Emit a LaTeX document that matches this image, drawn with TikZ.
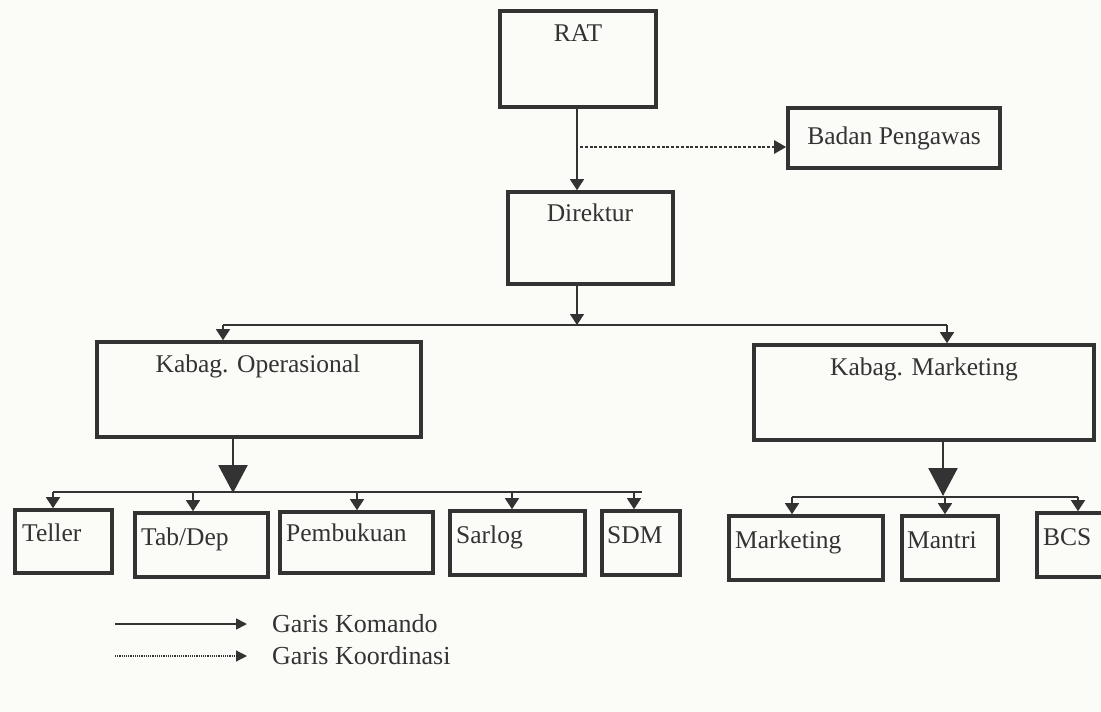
\documentclass[tikz,border=0pt]{standalone}
\usepackage{fontspec}
\setmainfont{Liberation Serif}
\usetikzlibrary{arrows.meta}
\definecolor{ink}{HTML}{333333}
\definecolor{paper}{HTML}{FBFBF8}
\begin{document}
\begin{tikzpicture}[x=1pt,y=-1pt,
  box/.style={draw=ink,line width=3.6pt,inner sep=0pt,rectangle},
  txt/.style={inner sep=0pt,text height=17pt,text depth=0pt,text=ink,font=\fontsize{25.5}{28}\selectfont},
  cmd/.style={draw=ink,line width=1.4pt,-{Triangle[length=11pt,width=14pt]}},
  bigcmd/.style={draw=ink,line width=2.6pt,-{Triangle[length=28pt,width=29pt]}},
  coord/.style={draw=ink,line width=2.6pt,dash pattern=on 3pt off 1.8pt,-{Triangle[length=12pt,width=13pt]}},
  legdot/.style={draw=ink,line width=1.2pt,dash pattern=on 1.2pt off 1pt,-{Triangle[length=11pt,width=11pt]}},
  legcmd/.style={draw=ink,line width=1.6pt,-{Triangle[length=11pt,width=11pt]}},
  bus/.style={draw=ink,line width=1.4pt}]
\useasboundingbox (0,0) rectangle (1101,712);
\clip (0,0) rectangle (1101,712);
\fill[paper] (0,0) rectangle (1101,712);

% boxes
\node[box,minimum width=156pt,minimum height=96pt] (rat) at (578,59) {};
\node[box,minimum width=212pt,minimum height=60pt] (bp) at (894,138) {};
\node[box,minimum width=165pt,minimum height=92pt] (dir) at (590.5,238) {};
\node[box,minimum width=324pt,minimum height=95pt] (op) at (259,389.5) {};
\node[box,minimum width=340pt,minimum height=95pt] (mk) at (924,392.5) {};
\node[box,minimum width=97pt,minimum height=63pt] (tel) at (63.5,541.5) {};
\node[box,minimum width=133pt,minimum height=64pt] (tab) at (201.5,545) {};
\node[box,minimum width=153pt,minimum height=61pt] (pem) at (356.5,542.5) {};
\node[box,minimum width=135pt,minimum height=64pt] (sar) at (517.5,543) {};
\node[box,minimum width=78pt,minimum height=64pt] (sdm) at (641,543) {};
\node[box,minimum width=154pt,minimum height=64pt] (mar) at (806,548) {};
\node[box,minimum width=96pt,minimum height=64pt] (man) at (950,548) {};
\node[box,minimum width=140pt,minimum height=64pt] (bcs) at (1107,545) {};

% texts
\node[txt] (ratT) at (578,33) {RAT};
\node[txt] (bpT) at (894,136) {Badan Pengawas};
\node[txt] (dirT) at (590,213) {Direktur};
\node[txt] (opT) at (258,364) {Kabag. Operasional};
\node[txt] (mkT) at (924,367) {Kabag. Marketing};
\node[txt,anchor=west] (telT) at (22,533) {Teller};
\node[txt,anchor=west] (tabT) at (141,537) {Tab/Dep};
\node[txt,anchor=west] (pemT) at (286,533) {Pembukuan};
\node[txt,anchor=west] (sarT) at (456,535) {Sarlog};
\node[txt,anchor=west] (sdmT) at (607,535) {SDM};
\node[txt,anchor=west] (marT) at (735,540) {Marketing};
\node[txt,anchor=west] (manT) at (907,540) {Mantri};
\node[txt,anchor=west] (bcsT) at (1043,537) {BCS};

% top connectors
\coordinate (ratx) at (577,0);
\draw[cmd] (ratx |- rat.south) -- (ratx |- dir.north);
\coordinate (d0) at (580,147);
\draw[coord] (d0) -- (d0 -| bp.west);
\coordinate (bus1) at (577,325);
\draw[cmd] (ratx |- dir.south) -- (bus1);
\coordinate (bl) at (223,325);
\coordinate (br) at (947,325);
\draw[bus] (bl) -- (br);
\draw[cmd] (bl) -- (bl |- op.north);
\draw[cmd] (br) -- (br |- mk.north);

% operasional subtree
\coordinate (opx) at (233,0);
\coordinate (ob) at (233,493);
\draw[bigcmd] (opx |- op.south) -- (ob);
\coordinate (obl) at (53,492);
\coordinate (obr) at (642,492);
\draw[bus] (obl) -- (obr);
\draw[cmd] (obl) -- (obl |- tel.north);
\draw[cmd] (193,492) -- (193,0 |- tab.north);
\draw[cmd] (357,492) -- (357,0 |- pem.north);
\draw[cmd] (512,492) -- (512,0 |- sar.north);
\draw[cmd] (634,492) -- (634,0 |- sdm.north);

% marketing subtree
\coordinate (mkx) at (943,0);
\coordinate (mb) at (943,496);
\draw[bigcmd] (mkx |- mk.south) -- (mb);
\coordinate (mbl) at (792,497);
\coordinate (mbr) at (1078,497);
\draw[bus] (mbl) -- (mbr);
\draw[cmd] (mbl) -- (mbl |- mar.north);
\draw[cmd] (945,497) -- (945,0 |- man.north);
\draw[cmd] (mbr) -- (mbr |- bcs.north);

% legend
\coordinate (l1a) at (115,624);
\coordinate (l1b) at (247,624);
\coordinate (l2a) at (115,656);
\coordinate (l2b) at (247,656);
\draw[legcmd] (l1a) -- (l1b);
\draw[legdot] (l2a) -- (l2b);
\node[txt,anchor=west,font=\fontsize{26}{28}\selectfont] (leg1) at (272,624) {Garis Komando};
\node[txt,anchor=west,font=\fontsize{26}{28}\selectfont] (leg2) at (272,656) {Garis Koordinasi};
\end{tikzpicture}
\end{document}
